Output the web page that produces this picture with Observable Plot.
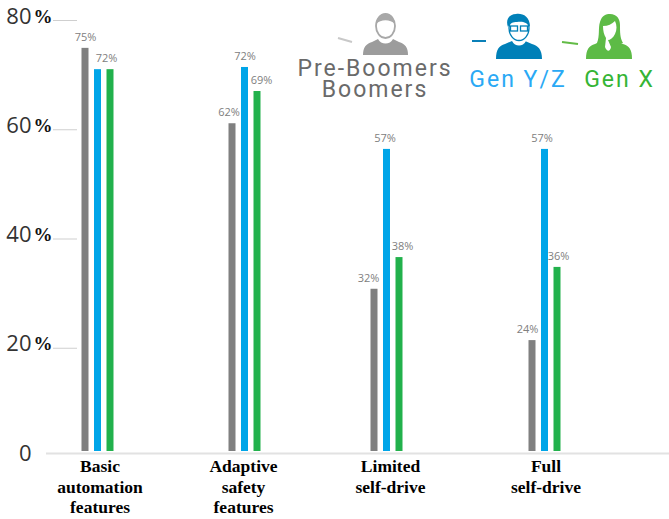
<!DOCTYPE html>
<html><head><meta charset="utf-8">
<style>html,body{margin:0;padding:0;background:#fff}svg{display:block}</style>
<script src="https://cdn.jsdelivr.net/npm/d3@7"></script>
<script src="https://cdn.jsdelivr.net/npm/@observablehq/plot@0.6"></script>
</head><body><div id="chart"></div>
<script>
const categories = ["Basic\nautomation\nfeatures", "Adaptive\nsafety\nfeatures", "Limited\nself-drive", "Full\nself-drive"];
const seriesNames = ["Pre-Boomers / Boomers", "Gen Y/Z", "Gen X"];
const seriesColors = ["#808080", "#00a5e8", "#22b14c"];
const boomers = [74.9, 61.1, 30.8, 21.4];
const genYZ = [71, 71.4, 56.4, 56.4];
const genX = [71, 67, 36.6, 34.8];
const boomerLabels = ["75%", "62%", "32%", "24%"];
const genYZLabels = [null, "72%", "57%", "57%"];
const genXLabels = ["72%", "69%", "38%", "36%"];
const yTicks = [0, 20, 40, 60, 80];

const rows = categories.flatMap((c, i) => [
  {i, cat: c, s: 0, v: boomers[i], label: boomerLabels[i]},
  {i, cat: c, s: 1, v: genYZ[i], label: genYZLabels[i]},
  {i, cat: c, s: 2, v: genX[i], label: genXLabels[i]}
]);
const barOffset = [-12.5, 0, 12.5];
const labelOffset = [[-12.5, 0, 8.5], [-16, 0, 16.5], [-18.5, -2, 15.5], [-17.5, -3, 13.5]];
const catOffset = [2, -1.5, 3.5, 1];

function person(g, kind, color) {
  if (kind === "gray") {
    g.append("path").attr("d", "M0 41 C0 33 3 30 9 28 L15 25 L30 25 L36 28 C42 30 45 33 45 41 Z").attr("fill", color);
    g.append("path").attr("d", "M15 25 C18 31 27 31 30 25 L27 19 L18 19 Z").attr("fill", "#fff");
    g.append("ellipse").attr("cx", 22.5).attr("cy", 12).attr("rx", 9.5).attr("ry", 12).attr("fill", "#fff").attr("stroke", "#a8a8a8").attr("stroke-width", 1.8);
    g.append("path").attr("d", "M13.5 10 C14 2 18 0 22.5 0 C27 0 31 2 31.5 10 C28 5 17 5 13.5 10Z").attr("fill", "#a8a8a8");
  } else if (kind === "blue") {
    g.append("path").attr("d", "M0 45 C0 35 3 32 9 30 L16 27 L29 27 L36 30 C42 32 46 35 46 45 Z").attr("fill", color);
    g.append("path").attr("d", "M16 27 C19 33 27 33 30 27 L28 20 L18 20 Z").attr("fill", "#fff");
    g.append("ellipse").attr("cx", 23).attr("cy", 14).attr("rx", 10).attr("ry", 12.5).attr("fill", "#fff").attr("stroke", color).attr("stroke-width", 1.3);
    g.append("path").attr("d", "M12 13 C9 5 14 0 20 0 C26 -1 34 2 34 13 C31 8 26 7 21 8 C17 8 14 9 12 13Z").attr("fill", color);
    g.append("rect").attr("x", 14.5).attr("y", 12).attr("width", 7).attr("height", 5).attr("fill", "none").attr("stroke", color).attr("stroke-width", 1.3);
    g.append("rect").attr("x", 24.5).attr("y", 12).attr("width", 7).attr("height", 5).attr("fill", "none").attr("stroke", color).attr("stroke-width", 1.3);
  } else {
    g.append("path").attr("d", "M0 45 C0 35 3 32 9 30 L15 27 L31 27 L37 30 C43 32 46 35 46 45 Z").attr("fill", color);
    g.append("path").attr("d", "M11 29 C14 22 12 14 14 8 C16 1 20 0 24 0 C31 0 34 5 34 11 C34 18 34 24 37 29 L23 31 Z").attr("fill", color);
    g.append("path").attr("d", "M17 12 C22 12 26 10 29 7 C31 11 31 16 29 20 C27 24 24 26 22 26 L25 33 C24 38 21 38 19 33 L20 24 C18 21 17 17 17 12 Z").attr("fill", "#fff");
  }
}

function legend() {
  const g = d3.create("svg:g");
  const dash = (x1, y1, x2, y2, c) => g.append("line").attr("x1", x1).attr("y1", y1).attr("x2", x2).attr("y2", y2).attr("stroke", c).attr("stroke-width", 2);
  dash(338, 38, 352, 42, "#c8c8c8");
  dash(472, 41, 486, 41, "#0a80b8");
  dash(562, 42, 578, 44, "#62bb46");
  person(g.append("g").attr("transform", "translate(363,14)"), "gray", "#9c9c9c");
  person(g.append("g").attr("transform", "translate(496,14)"), "blue", "#0080b8");
  person(g.append("g").attr("transform", "translate(586,14)"), "green", "#5dbb46");
  const style = s => s.attr("text-anchor", "middle").attr("font-family", "Roboto").attr("font-size", 23)
    .attr("font-weight", 400).style("letter-spacing", "2px");
  const txt = (t, x, y, c) => style(g.append("text").text(t).attr("x", x).attr("y", y).attr("fill", c));
  const twoLine = style(g.append("text").attr("fill", "#6a6a6a"));
  twoLine.append("tspan").attr("x", 375).attr("y", 76).text("Pre-Boomers");
  twoLine.append("tspan").attr("x", 375).attr("y", 97).text("Boomers");
  txt("Gen Y/Z", 518, 87, "#2aa9f5");
  txt("Gen X", 619.5, 87, "#35b535");
  return g.node();
}

const numFont = {fontFamily: "Open Sans", fontSize: 22, fill: "#333", fontWeight: 400};

const plot = Plot.plot({
  width: 669, height: 519,
  marginLeft: 0, marginRight: 0, marginTop: 0, marginBottom: 0,
  x: {type: "linear", domain: [0, 1, 2, 3], range: [97.5, 244.5, 386.5, 544.5], axis: null},
  y: {domain: [0, 80], range: [457, 20], axis: null},
  style: {background: "#fff"},
  marks: [
    Plot.ruleY(yTicks.filter(d => d > 0), {y: d => d, stroke: "#cfcfcf", strokeWidth: 1, insetLeft: 53, insetRight: 592}),
    Plot.ruleY([0], {dy: -4, stroke: "#e2e2e2", strokeWidth: 2, insetLeft: 46}),
    Plot.text(yTicks, {y: d => d, text: d => String(d), frameAnchor: "left", textAnchor: "end", dx: 31, dy: -4, ...numFont}),
    Plot.text(yTicks.filter(d => d > 0), {y: d => d, text: () => "%", frameAnchor: "left", textAnchor: "start", dx: 33, dy: -4, fontFamily: "Liberation Serif", fontWeight: "bold", fontSize: 19, fill: "#111"}),
    ...[0, 1, 2].map(s => Plot.rect(rows.filter(d => d.s === s), {
      x1: "i", x2: "i", y1: () => 0, y2: "v", fill: seriesColors[s], title: () => seriesNames[s],
      insetLeft: -3.5, insetRight: -3.5, insetBottom: 6, dx: barOffset[s]
    })),
    ...rows.filter(d => d.label).map(d => Plot.text([d], {
      x: "i", y: "v", text: "label", dx: labelOffset[d.i][d.s], dy: -11,
      fontFamily: "Open Sans", fontSize: 11, fill: "#808080"
    })),
    ...categories.map((c, i) => Plot.text([c], {
      x: () => i, y: () => 0, text: d => d, lineAnchor: "top", dy: 0, dx: catOffset[i], lineHeight: 1.17,
      fontFamily: "Liberation Serif", fontWeight: "bold", fontSize: 17.5, fill: "#000"
    })),
    legend
  ]
});
document.getElementById("chart").appendChild(plot);
</script></body></html>
